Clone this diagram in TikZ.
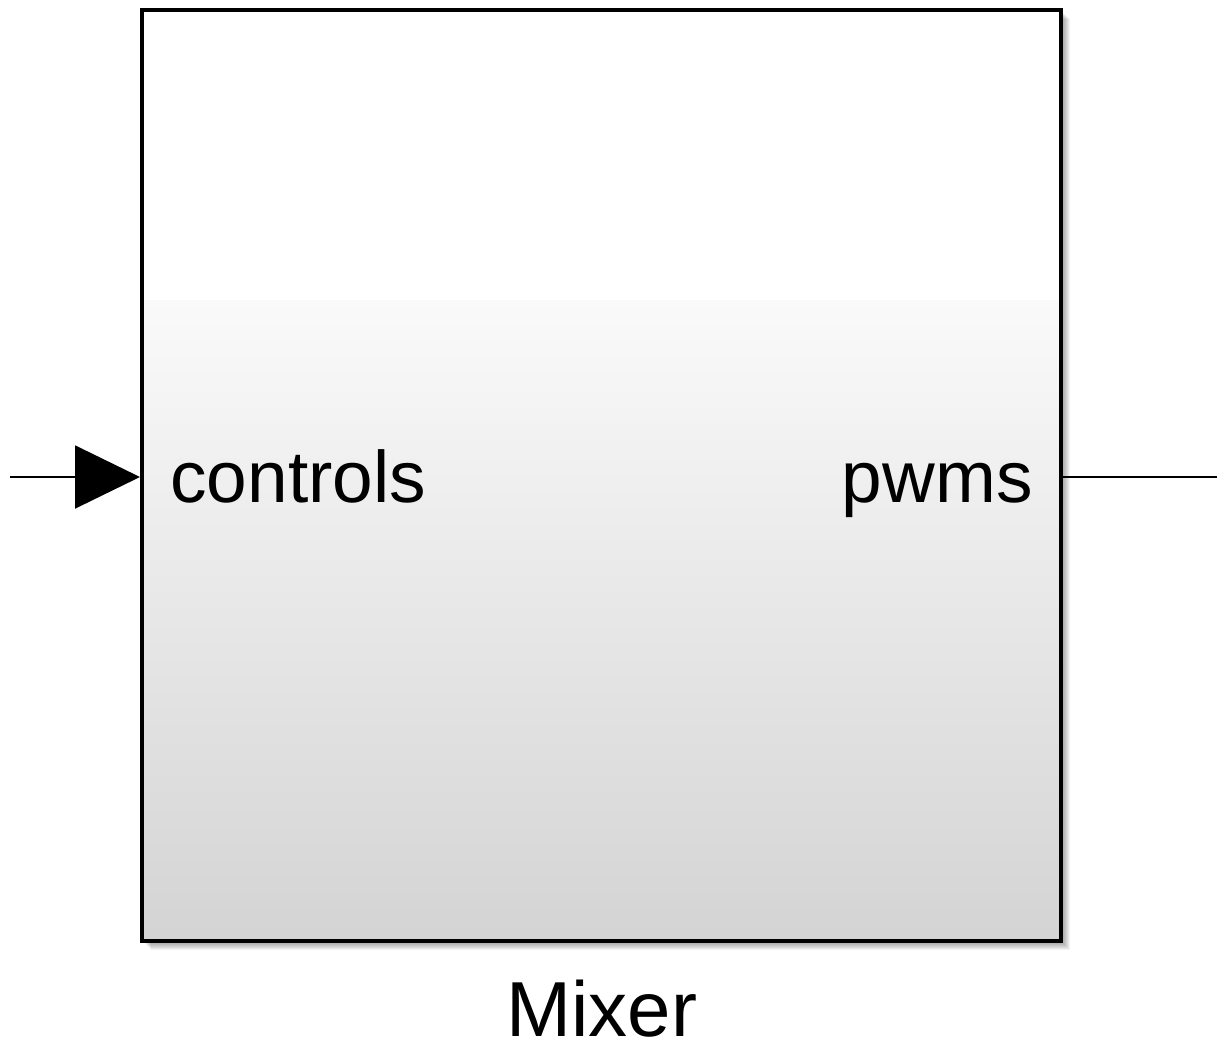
\documentclass[tikz,border=0pt]{standalone}
\usepackage{fontspec}
\setmainfont{Liberation Sans}
\usetikzlibrary{arrows.meta}
\begin{document}
\begin{tikzpicture}[x=0.5pt,y=-0.5pt,
  blockbox/.style={draw=black,line width=2pt,minimum width=459.5pt,minimum height=465.5pt,inner sep=0pt},
  portlabel/.style={inner sep=0pt,font=\fontsize{36.5pt}{40pt}\selectfont},
  namelabel/.style={inner sep=0pt,font=\fontsize{39pt}{42pt}\selectfont},
  sigline/.style={line width=1pt,black}]
\path[use as bounding box] (0,0) rectangle (1217,1050);
% shadow
\foreach \k in {1,...,9}
  \fill[black,opacity=0.05] (142+\k,10+\k) rectangle (1061+\k,941+\k);
% body fill
\fill[white] (142,10) rectangle (1061,941);
\shade[top color=black!2,bottom color=black!17] (142,300) rectangle (1061,941);
% block
\node[blockbox] (mixer) at (601.5,475.5) {};
\node[portlabel,anchor=base west] (inlab) at (170,502) {controls};
\node[portlabel,anchor=base east] (outlab) at (1033,502) {pwms};
\node[namelabel,anchor=base] (name) at (602,1036) {Mixer};
% signals
\coordinate (src) at (10,477);
\coordinate (dst) at (1217,477);
\draw[sigline,-{Triangle[length=32.5pt,width=31.5pt]}] (src) -- (src -| mixer.west);
\draw[sigline] (dst -| mixer.east) -- (dst);
\end{tikzpicture}
\end{document}
